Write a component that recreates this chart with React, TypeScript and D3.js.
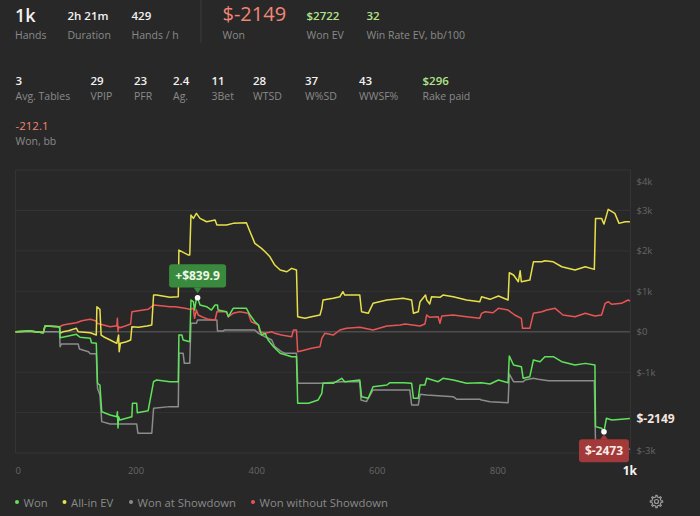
import React from 'react';
import * as d3 from 'd3';

type P = [number, number];

const TOTAL_HANDS = 1020;
const LAST_HAND = 1019;

const WON: P[] = [
  [0,0],[24,17],[46,-25],[49,141],[73,124],[74,-148],[88,-106],[101,-64],[107,-138],[124,-163],[126,-272],[134,-287],[136,-1276],[140,-1318],[143,-1978],[157,-2059],[168,-2101],[169,-1978],[170,-2380],[171,-2101],[173,-2183],[193,-2101],[194,-1770],[201,-1770],[202,-2002],[220,-1953],[229,-1236],[234,-1194],[256,-1236],[270,-1236],[271,-82],[276,-82],[278,-205],[289,-247],[291,784],[295,742],[297,536],[300,826],[302,839.9],[306,660],[317,618],[325,536],[331,660],[335,660],[336,536],[350,494],[353,371],[361,578],[383,578],[389,413],[397,247],[403,166],[408,-82],[414,-40],[419,-205],[428,-371],[439,-534],[458,-618],[466,-618],[468,-1770],[486,-1770],[502,-1688],[508,-1523],[510,-1277],[527,-1276],[541,-1152],[546,-1236],[571,-1194],[574,-1607],[585,-1646],[593,-1360],[616,-1318],[621,-1261],[643,-1261],[657,-1276],[660,-1646],[668,-1646],[671,-1318],[679,-1318],[682,-1152],[701,-1236],[709,-1152],[726,-1194],[748,-1276],[773,-1261],[787,-1293],[801,-1194],[817,-1261],[819,-601],[826,-823],[839,-865],[842,-1152],[853,-1112],[859,-700],[870,-742],[878,-618],[892,-618],[906,-742],[928,-823],[945,-783],[961,-823],[962,-2348],[972,-2388],[976,-2473],[980,-2141],[989,-2183],[1005,-2165],[1019,-2149]
];

const ALLIN_EV: P[] = [
  [0,0],[24,17],[46,-25],[49,141],[73,124],[74,-40],[79,0],[88,25],[101,84],[104,0],[124,-25],[134,-82],[135,618],[140,554],[142,-82],[146,-124],[157,-205],[168,-287],[171,-82],[172,-494],[174,-287],[184,-247],[191,-205],[193,124],[204,109],[218,141],[226,166],[229,907],[234,907],[256,850],[270,865],[271,2020],[287,1896],[289,1896],[291,2885],[295,2803],[300,2927],[306,2803],[317,2719],[331,2761],[334,2638],[350,2638],[361,2680],[383,2694],[389,2472],[397,2185],[408,2062],[414,1978],[422,1854],[430,1649],[439,1525],[450,1483],[458,1567],[466,1525],[468,371],[480,331],[491,371],[505,413],[508,578],[510,784],[527,826],[538,865],[543,989],[546,907],[571,907],[574,494],[585,455],[593,702],[616,784],[643,826],[657,784],[660,455],[668,494],[671,742],[680,907],[682,784],[687,685],[690,865],[704,850],[709,907],[726,865],[748,784],[770,742],[773,865],[787,801],[801,882],[817,784],[819,1458],[826,1402],[834,1236],[837,1508],[839,1236],[853,1278],[859,1730],[873,1730],[878,1755],[892,1730],[906,1607],[928,1525],[945,1607],[960,1542],[962,2803],[972,2803],[976,2662],[983,3026],[994,2927],[1001,2680],[1011,2719],[1019,2722]
];

const WON_SD: P[] = [
  [0,0],[73,0],[74,-371],[76,-304],[104,-304],[106,-428],[121,-494],[124,-544],[134,-544],[136,-1400],[140,-1564],[143,-2224],[157,-2281],[201,-2281],[203,-2512],[226,-2512],[229,-1894],[256,-1853],[270,-1853],[271,-534],[278,-534],[280,-781],[289,-781],[291,208],[300,208],[302,289],[334,289],[335,17],[345,17],[346,42],[397,42],[403,-40],[414,-124],[425,-205],[430,-371],[441,-494],[447,-534],[466,-534],[468,-1276],[505,-1276],[541,-1236],[571,-1236],[573,-1688],[582,-1730],[593,-1441],[654,-1441],[657,-1812],[668,-1812],[671,-1547],[682,-1565],[726,-1607],[732,-1671],[770,-1671],[773,-1688],[787,-1730],[817,-1755],[819,-1046],[826,-1236],[842,-1236],[845,-1194],[859,-1152],[867,-1177],[884,-1211],[960,-1211],[962,-2760],[975,-2800],[990,-2860],[1019,-2908]
];

const WON_NSD: P[] = [
  [0,0],[24,17],[46,-25],[49,141],[73,124],[79,166],[88,190],[101,222],[110,272],[124,306],[134,265],[135,208],[146,166],[157,124],[165,141],[168,141],[169,331],[170,0],[171,120],[173,99],[182,141],[191,190],[193,494],[212,536],[220,554],[229,660],[245,635],[256,618],[265,618],[281,578],[289,554],[295,578],[297,331],[300,536],[303,413],[309,371],[320,306],[331,289],[334,494],[350,494],[353,371],[361,455],[372,494],[386,455],[391,247],[403,166],[405,0],[414,-40],[425,0],[430,-40],[441,-82],[458,-124],[461,42],[466,42],[468,-494],[480,-452],[491,-410],[505,-371],[508,-163],[513,-40],[527,-82],[538,42],[549,84],[571,109],[593,42],[616,141],[638,166],[646,190],[671,141],[679,190],[682,413],[687,356],[701,371],[704,208],[707,388],[726,413],[748,371],[770,331],[773,455],[779,494],[792,470],[801,578],[817,536],[828,413],[839,331],[841,84],[853,84],[859,455],[873,494],[881,536],[895,578],[908,413],[928,371],[945,455],[961,388],[972,413],[978,702],[983,742],[989,677],[1005,702],[1016,784],[1019,759]
];

const Y_TICKS = [-3000, -2000, -1000, 0, 1000, 2000, 3000, 4000];
const X_TICKS = [0, 200, 400, 600, 800];

const TOP_STATS = [
  { value: '1k', label: 'Hands', x: 15, kind: 'big' },
  { value: '2h 21m', label: 'Duration', x: 67.5, kind: 'plain' },
  { value: '429', label: 'Hands / h', x: 131.5, kind: 'plain' },
  { value: '$-2149', label: 'Won', x: 222.5, kind: 'won' },
  { value: '$2722', label: 'Won EV', x: 306.5, kind: 'pos' },
  { value: '32', label: 'Win Rate EV, bb/100', x: 366.5, kind: 'pos' },
];

const MID_STATS = [
  { value: '3', label: 'Avg. Tables', x: 15.5, kind: 'plain' },
  { value: '29', label: 'VPIP', x: 90.5, kind: 'plain' },
  { value: '23', label: 'PFR', x: 134, kind: 'plain' },
  { value: '2.4', label: 'Ag.', x: 173, kind: 'plain' },
  { value: '11', label: '3Bet', x: 211.5, kind: 'plain' },
  { value: '28', label: 'WTSD', x: 253, kind: 'plain' },
  { value: '37', label: 'W%SD', x: 305, kind: 'plain' },
  { value: '43', label: 'WWSF%', x: 359, kind: 'plain' },
  { value: '$296', label: 'Rake paid', x: 422.5, kind: 'pos' },
];

const LEGEND = [
  { name: 'Won', color: '#5fe35a', x: 17 },
  { name: 'All-in EV', color: '#e8e04a', x: 64.5 },
  { name: 'Won at Showdown', color: '#8c8c8c', x: 131 },
  { name: 'Won without Showdown', color: '#e85555', x: 253 },
];

const FONT = "'Open Sans', 'Noto Sans', sans-serif";
const BG = '#282828';
const LABEL = '#8a8a8a';
const SALMON = '#f08676';
const LIGHTGREEN = '#b2e58a';

const valueColor = (k: string) => (k === 'pos' ? LIGHTGREEN : k === 'won' ? SALMON : '#f2f2f2');

function Gear({ cx, cy }: { cx: number; cy: number }) {
  const teeth = 8;
  const rOut = 6.2, rIn = 4.6;
  const pts: [number, number][] = [];
  for (let i = 0; i < teeth; i++) {
    const a0 = (i / teeth) * Math.PI * 2;
    const step = (Math.PI * 2) / teeth;
    const angs = [a0 - step * 0.22, a0 - step * 0.14, a0 + step * 0.14, a0 + step * 0.22];
    const rads = [rIn, rOut, rOut, rIn];
    angs.forEach((a, j) => pts.push([cx + Math.cos(a) * rads[j], cy + Math.sin(a) * rads[j]]));
  }
  const d = d3.line().curve(d3.curveLinearClosed)(pts) || '';
  return (
    <g>
      <path d={d} fill="none" stroke="#9a9a9a" strokeWidth={1.2} strokeLinejoin="round" />
      <circle cx={cx} cy={cy} r={2} fill="none" stroke="#9a9a9a" strokeWidth={1.2} />
    </g>
  );
}

export default function App() {
  const W = 700, H = 516;
  const left = 15.5, right = 630.5, top = 170, bottom = 453;
  const x = d3.scaleLinear().domain([0, TOTAL_HANDS]).range([left, right]);
  const y = d3.scaleLinear().domain([-3000, 4000]).range([bottom, top]);
  const line = d3.line<P>().x(d => x(d[0])).y(d => y(d[1]));

  const series = [
    { data: WON_SD, color: '#8c8c8c' },
    { data: WON_NSD, color: '#e85555' },
    { data: ALLIN_EV, color: '#e8e04a' },
    { data: WON, color: '#5fe35a' },
  ];

  const lastWon = WON[WON.length - 1];
  const maxPt = WON.reduce((a, b) => (b[1] > a[1] ? b : a));
  const minPt = WON.reduce((a, b) => (b[1] < a[1] ? b : a));
  const lastY = y(lastWon[1]);

  const maxX = x(maxPt[0]), maxY = y(maxPt[1]);
  const minX = x(minPt[0]), minY = y(minPt[1]);

  return (
    <div style={{ position: 'fixed', left: 0, top: 0, width: W, height: H, background: BG }}>
      <svg width={W} height={H} style={{ display: 'block', fontFamily: FONT }}>
        <rect x={0} y={0} width={W} height={H} fill={BG} />

        {/* top stats */}
        {TOP_STATS.map(s => (
          <g key={s.label}>
            <text
              x={s.x}
              y={s.kind === 'big' ? 15 : s.kind === 'won' ? 13.5 : 15.5}
              dominantBaseline="central"
              fontSize={s.kind === 'big' ? 18 : s.kind === 'won' ? 20 : 11.5}
              fontWeight={s.kind === 'won' ? 400 : 600}
              fill={valueColor(s.kind)}
            >{s.value}</text>
            <text x={s.x} y={35} dominantBaseline="central" fontSize={10.5} fill={LABEL}>{s.label}</text>
          </g>
        ))}
        <line x1={201} x2={201} y1={0} y2={43} stroke="#3a3a3a" strokeWidth={1} />

        {MID_STATS.map(s => (
          <g key={s.label}>
            <text x={s.x} y={80} dominantBaseline="central" fontSize={11.5} fontWeight={600} fill={valueColor(s.kind)}>{s.value}</text>
            <text x={s.x} y={96} dominantBaseline="central" fontSize={10.5} fill={LABEL}>{s.label}</text>
          </g>
        ))}
        <text x={15.5} y={125.5} dominantBaseline="central" fontSize={11.5} fill={SALMON}>-212.1</text>
        <text x={15.5} y={141} dominantBaseline="central" fontSize={10.5} fill={LABEL}>Won, bb</text>

        {/* grid */}
        {Y_TICKS.map(t => (
          <line key={t} x1={left} x2={right} y1={y(t)} y2={y(t)} stroke={t === 0 ? '#4c4c4c' : '#343434'} strokeWidth={t === 0 ? 1.5 : 1} />
        ))}
        <line x1={left} x2={left} y1={top} y2={bottom} stroke="#343434" />
        <line x1={right} x2={right} y1={top} y2={bottom} stroke="#343434" />

        {/* y labels */}
        {Y_TICKS.filter(t => Math.abs(y(t) - lastY) > 12).map(t => (
          <text key={t} x={636.5} y={Math.min(Math.max(y(t), top + 11), bottom - 2.5)} dominantBaseline="central" fontSize={9.5} fill="#666">
            {t === 0 ? '$0' : `$${t / 1000}k`}
          </text>
        ))}
        <text x={636.5} y={lastY} dominantBaseline="central" fontSize={12} fontWeight={700} fill="#f6e4df">{`$${lastWon[1]}`}</text>

        {/* x labels */}
        {X_TICKS.map(t => (
          <text key={t} x={t === 0 ? left : x(t)} y={470.7} dominantBaseline="central" textAnchor={t === 0 ? 'start' : 'middle'} fontSize={9.5} fill="#666">{t}</text>
        ))}
        <text x={x(lastWon[0])} y={470.7} dominantBaseline="central" textAnchor="middle" fontSize={12} fontWeight={700} fill="#f4f4f4">1k</text>

        {/* lines */}
        {series.map((s, i) => (
          <path key={i} d={line(s.data) || ''} fill="none" stroke={s.color} strokeWidth={1.5} strokeLinejoin="round" />
        ))}

        {/* max tooltip */}
        <g>
          <rect x={maxX - 28.5} y={maxY - 33.5} width={57} height={23.3} rx={3} fill="#3a8a3e" />
          <path d={`M${maxX - 4},${maxY - 10.3} L${maxX + 4},${maxY - 10.3} L${maxX},${maxY - 4.5} Z`} fill="#3a8a3e" />
          <text x={maxX} y={maxY - 21.8} dominantBaseline="central" textAnchor="middle" fontSize={12} fontWeight={700} fill="#eef7e8">{`+$${maxPt[1]}`}</text>
          <circle cx={maxX} cy={maxY} r={2.8} fill="#fff" />
        </g>

        {/* min tooltip */}
        <g>
          <rect x={minX - 25} y={minY + 7.6} width={50} height={23} rx={3} fill="#a13a38" />
          <path d={`M${minX - 4},${minY + 7.8} L${minX + 4},${minY + 7.8} L${minX},${minY + 2.5} Z`} fill="#a13a38" />
          <text x={minX} y={minY + 19.3} dominantBaseline="central" textAnchor="middle" fontSize={12} fontWeight={700} fill="#fbe9e7">{`$${minPt[1]}`}</text>
          <circle cx={minX} cy={minY} r={2.8} fill="#fff" />
        </g>

        {/* legend */}
        {LEGEND.map(l => (
          <g key={l.name}>
            <circle cx={l.x} cy={502} r={2} fill={l.color} />
            <text x={l.x + 6.5} y={502} dominantBaseline="central" fontSize={11.3} fill={LABEL}>{l.name}</text>
          </g>
        ))}
        <Gear cx={656.5} cy={501.5} />
      </svg>
    </div>
  );
}
